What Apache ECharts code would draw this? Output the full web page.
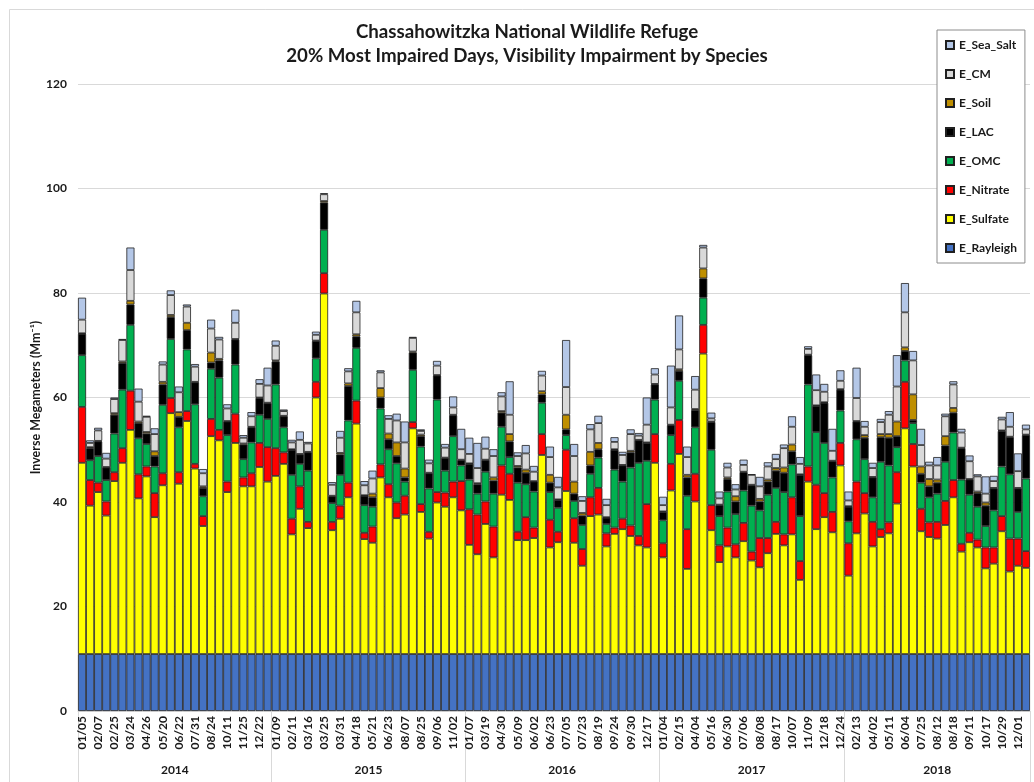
<!DOCTYPE html>
<html><head><meta charset="utf-8">
<script src="https://cdn.jsdelivr.net/npm/echarts@6/dist/echarts.min.js"></script>
<style>html,body{margin:0;padding:0;background:#fff}#c{width:1034px;height:782px}</style>
</head><body><div id="c"></div><script>
const dates = [
'01/05','01/29','02/07','02/16','02/25','03/12','03/24','04/08','04/26','05/08','05/20','06/07','06/22','07/10','07/31','08/12','08/24','09/17','10/11','11/01','11/25','12/10','12/22','12/28',
'01/09','01/27','02/11','02/26','03/16','03/22','03/25','03/28','03/31','04/06','04/18','05/06','05/21','06/08','06/23','07/14','08/07','08/16','08/25','08/31','09/06','10/06','11/02','12/11',
'01/07','02/24','03/19','04/09','04/30','05/03','05/09','05/24','06/02','06/14','06/23','06/29','07/05','07/14','07/23','08/01','08/19','09/06','09/24','09/27','09/30','11/14','12/17','12/26',
'01/04','01/28','02/15','03/11','04/04','04/28','05/16','06/09','06/30','07/03','07/06','07/24','08/08','08/14','08/17','09/13','10/07','10/25','11/09','12/03','12/18','12/21','12/24',
'01/14','02/13','03/06','04/02','04/23','05/11','05/26','06/04','06/25','07/25','08/06','08/12','08/15','08/18','08/30','09/11','10/05','10/17','10/23','10/29','11/13','12/01','12/19'];
const years = ['2014','2015','2016','2017','2018'];
const barsPerYear = [24,24,24,23,23];
const legendOrder = ['E_Sea_Salt','E_CM','E_Soil','E_LAC','E_OMC','E_Nitrate','E_Sulfate','E_Rayleigh'];

const rayleigh = [
10.9,10.9,10.9,10.9,10.9,10.9,10.9,10.9,10.9,10.9,10.9,10.9,10.9,10.9,10.9,10.9,10.9,10.9,10.9,10.9,10.9,10.9,10.9,10.9,
10.9,10.9,10.9,10.9,10.9,10.9,10.9,10.9,10.9,10.9,10.9,10.9,10.9,10.9,10.9,10.9,10.9,10.9,10.9,10.9,10.9,10.9,10.9,10.9,
10.9,10.9,10.9,10.9,10.9,10.9,10.9,10.9,10.9,10.9,10.9,10.9,10.9,10.9,10.9,10.9,10.9,10.9,10.9,10.9,10.9,10.9,10.9,10.9,
10.9,10.9,10.9,10.9,10.9,10.9,10.9,10.9,10.9,10.9,10.9,10.9,10.9,10.9,10.9,10.9,10.9,10.9,10.9,10.9,10.9,10.9,10.9,
10.9,10.9,10.9,10.9,10.9,10.9,10.9,10.9,10.9,10.9,10.9,10.9,10.9,10.9,10.9,10.9,10.9,10.9,10.9,10.9,10.9,10.9,10.9];
const sulfate = [
36.6,28.4,31.0,26.5,33.1,36.6,42.9,29.8,34.0,26.2,32.3,46.1,32.6,44.6,35.5,24.5,41.7,40.9,31.0,40.4,32.1,32.1,35.8,33.0,
34.1,36.4,22.9,27.8,24.1,49.1,69.0,23.7,25.9,30.0,44.1,22.0,21.3,33.8,30.0,26.0,26.7,43.2,27.2,22.1,29.0,28.2,30.0,27.5,
20.9,19.1,24.9,18.5,30.5,29.5,21.8,21.8,22.2,38.1,20.4,21.4,31.2,21.3,16.9,26.4,26.7,20.6,23.0,23.9,22.6,20.8,20.4,36.6,
18.5,31.3,38.3,16.3,29.2,57.5,23.7,17.6,20.6,18.5,21.6,17.9,16.6,19.3,23.0,20.8,22.9,14.2,33.0,23.9,26.2,23.3,36.1,
15.0,23.1,26.9,20.6,22.4,23.1,28.8,43.2,35.9,23.5,22.4,22.1,24.7,30.0,19.6,21.4,20.4,16.4,17.3,23.5,15.8,16.9,16.5];
const nitrate = [
10.7,4.9,1.8,2.7,1.7,2.8,7.5,4.6,1.9,4.6,2.3,2.9,2.2,1.9,0.9,1.9,3.3,2.0,2.0,5.6,1.7,2.5,4.6,6.6,
5.3,2.2,3.0,4.3,1.2,3.0,3.9,1.6,2.5,2.8,4.4,1.2,3.1,2.5,2.5,3.0,3.6,1.2,1.5,1.3,2.0,2.7,3.0,5.6,
6.8,7.6,4.3,5.9,5.6,5.0,1.6,4.4,2.0,4.0,5.3,2.0,7.9,4.7,3.2,3.6,5.1,2.5,1.2,2.0,2.0,1.8,8.3,5.5,
2.7,5.1,6.5,7.6,5.3,5.5,4.8,3.2,3.6,2.5,3.5,1.7,5.6,2.9,2.3,2.1,7.1,3.6,2.9,8.5,4.6,3.9,4.3,
6.2,9.9,3.9,4.7,1.5,2.1,6.0,8.9,4.3,4.3,2.8,3.2,4.6,3.3,1.5,1.8,1.5,4.0,3.1,2.9,6.3,5.2,3.2];
const omc = [
9.9,3.8,5.1,4.1,7.4,11.2,12.6,6.9,4.3,5.1,13.1,11.3,8.6,11.8,11.4,3.8,9.6,10.0,8.9,9.4,3.5,5.9,5.4,5.4,
12.2,4.8,8.4,4.3,9.8,4.5,8.3,3.6,5.9,11.9,10.1,5.3,3.8,10.7,6.7,7.5,2.7,10.0,11.0,8.3,17.7,4.2,8.7,3.0,
5.7,4.0,5.7,6.3,7.4,3.2,9.4,6.3,6.9,6.0,5.3,4.6,2.8,3.3,4.6,4.5,5.8,1.8,11.1,7.1,11.1,14.0,8.3,6.6,
4.4,5.5,7.5,6.4,8.9,5.2,10.6,5.6,6.9,5.8,6.2,8.8,5.3,8.3,6.5,8.1,6.3,8.6,15.7,10.1,9.6,6.6,6.2,
4.2,8.1,6.5,4.7,12.9,10.9,4.8,4.1,4.0,5.0,4.8,5.4,7.5,9.1,12.3,7.3,6.3,4.1,7.1,9.5,12.3,5.1,13.9];
const lac = [
4.1,2.3,2.8,2.4,3.6,5.1,3.9,2.9,2.0,2.0,3.9,4.2,2.0,3.7,4.2,1.6,1.2,3.3,2.6,4.8,2.8,2.9,3.2,3.0,
4.4,2.1,4.8,1.8,3.5,3.3,5.2,1.3,3.9,6.6,2.2,1.8,1.8,2.1,1.9,1.4,0.8,3.3,2.0,2.9,4.6,2.4,4.0,1.0,
3.0,1.8,2.2,2.5,2.7,3.0,2.9,2.2,1.9,1.6,1.8,1.5,1.1,1.4,1.8,1.6,1.6,1.2,3.8,3.1,2.9,4.3,3.4,2.9,
1.6,1.9,1.9,3.5,3.3,3.7,5.3,2.1,2.4,2.4,3.5,3.9,1.7,2.5,3.3,3.7,2.5,7.9,5.6,5.0,7.7,3.1,4.0,
2.8,3.4,4.1,3.8,4.7,5.3,2.1,1.8,0.6,1.7,2.1,2.1,3.1,3.8,6.0,2.9,2.6,3.9,4.2,6.8,7.1,4.5,8.3];
const soil = [
0.1,0.2,0.1,0.1,0.3,0.3,0.7,0.3,0.3,0.9,0.5,0.4,0.9,1.4,0.1,0.3,1.9,0.3,0.1,0.1,0.2,0.1,0.1,0.1,
0.2,0.1,0.1,0.1,0.1,0.1,0.3,0.1,0.3,0.5,0.4,0.1,0.7,1.8,1.1,2.6,1.7,0.2,0.3,0.1,0.1,0.1,0.1,0.1,
0.1,0.2,0.1,0.6,0.3,1.4,0.3,0.6,0.1,0.6,1.5,0.1,2.8,2.3,0.5,2.6,1.2,0.1,0.1,0.1,0.3,0.1,0.1,0.1,
0.1,0.1,0.3,0.5,0.2,1.9,0.1,0.1,0.3,1.0,0.1,0.1,0.5,0.4,0.5,1.0,1.3,0.1,0.1,0.1,0.1,0.1,0.1,
0.1,0.1,0.5,0.1,0.6,0.7,2.8,0.7,4.9,1.4,1.4,0.6,1.8,0.9,0.1,0.1,0.3,0.6,0.1,0.1,0.1,0.1,0.1];
const cm = [
2.6,0.8,2.0,1.6,2.7,4.1,5.9,3.8,2.9,3.3,3.3,3.8,3.8,3.1,2.9,2.5,4.6,3.7,2.4,3.1,1.1,2.0,2.6,3.3,
2.8,0.9,1.3,2.7,1.6,1.1,1.3,2.1,2.9,2.3,4.2,1.9,2.9,3.0,2.8,4.2,5.0,2.6,0.7,1.8,1.8,1.9,1.4,2.0,
1.8,2.9,2.1,4.1,2.8,3.7,1.9,3.1,1.8,3.0,3.4,2.3,5.3,4.9,2.3,4.3,3.8,2.3,1.4,1.9,3.2,0.8,3.4,1.8,
1.2,3.3,3.8,3.4,3.7,4.0,0.6,1.2,1.9,1.3,1.3,1.9,2.4,2.5,1.7,3.7,3.4,2.0,1.1,2.9,2.0,1.9,1.6,
1.1,4.4,1.6,1.7,2.3,3.7,6.7,6.7,6.5,4.1,2.6,2.7,3.8,4.5,2.9,3.4,2.9,1.7,1.3,2.1,1.9,3.2,1.0];
const seaSalt = [
4.2,0.5,0.5,1.1,0.3,0.2,4.3,2.5,0.2,1.1,0.6,0.9,1.1,0.4,0.5,0.8,1.7,0.5,0.8,2.5,0.5,0.8,0.9,3.4,
1.0,0.3,0.5,1.6,0.3,0.6,0.2,0.5,1.3,0.6,2.2,0.8,1.5,0.4,0.7,1.3,4.0,0.2,0.3,0.7,0.9,0.7,2.1,3.9,
3.1,4.8,2.3,1.3,0.8,6.4,0.7,1.6,1.1,0.9,2.0,2.0,9.0,2.3,0.9,1.0,1.4,1.2,0.9,0.6,0.9,0.5,5.2,1.2,
1.6,8.0,6.5,2.0,2.6,0.5,1.1,1.3,0.9,1.0,1.0,0.1,1.8,0.8,1.0,0.7,2.0,1.3,0.5,3.0,1.5,4.2,2.0,
1.7,5.8,1.1,1.0,0.6,0.7,6.0,5.6,1.8,3.1,0.7,1.6,0.5,0.6,0.7,1.1,0.4,3.3,1.0,0.5,2.8,3.4,0.9];

// derived helpers for the two-level category axis
const yearOfBar = [];
const yearStart = new Set();
const yearMid = {};
let acc = 0;
years.forEach(function (y, i) {
  yearStart.add(acc);
  yearMid[acc + Math.floor(barsPerYear[i] / 2)] = barsPerYear[i] % 2 === 0 ? 'e' : 'o';
  for (let k = 0; k < barsPerYear[i]; k++) yearOfBar.push(y);
  acc += barsPerYear[i];
});

const FONT = 'Lato, "Liberation Sans", Arial, sans-serif';
const TXT = '#1a1a1a';
const BORDER = '#202020';

function barSeries(name, data, color) {
  return {
    name: name, type: 'bar', stack: 'total', data: data,
    barCategoryGap: '0%', barGap: '0%',
    itemStyle: { color: color, borderColor: BORDER, borderWidth: 0.8 },
    emphasis: { disabled: true }
  };
}

const chart = echarts.init(document.getElementById('c'), null, { renderer: 'canvas' });
chart.setOption({
  animation: false,
  backgroundColor: '#fff',
  graphic: [{ type: 'rect', left: 7, top: 7, shape: { width: 1040, height: 800 },
    style: { fill: 'none', stroke: '#d9d9d9', lineWidth: 1 }, silent: true, z: -10 }],
  title: {
    text: 'Chassahowitzka National Wildlife Refuge\n20% Most Impaired Days, Visibility Impairment by Species',
    left: 527, top: 15, textAlign: 'center', padding: [5, 5, 5, 0],
    textStyle: { fontFamily: FONT, fontSize: 18.7, fontWeight: 'bold', color: TXT, lineHeight: 24 }
  },
  legend: {
    data: legendOrder, orient: 'vertical', left: 937, top: 30,
    itemWidth: 8, itemHeight: 8, itemGap: 17, icon: 'rect',
    padding: [9, 8, 9, 8], borderColor: '#8c8c8c', borderWidth: 1, backgroundColor: '#fff',
    textStyle: { fontFamily: FONT, fontSize: 12, fontWeight: 'bold', color: TXT },
    selectedMode: false
  },
  grid: { left: 78, right: 4, top: 84, bottom: 71, containLabel: false, outerBoundsMode: 'none' },
  xAxis: [{
    type: 'category', data: dates, position: 'bottom',
    axisLine: { show: true, lineStyle: { color: '#d9d9d9' } },
    axisTick: { show: false },
    axisLabel: { interval: 1, rotate: 90, margin: 5, fontFamily: FONT, fontSize: 12, fontWeight: 'bold', color: TXT, hideOverlap: false },
    splitLine: { show: false }
  }, {
    type: 'category', data: yearOfBar, position: 'bottom', offset: 0,
    axisLine: { show: false },
    axisTick: { show: true, length: 71, interval: function (i) { return yearStart.has(i); }, lineStyle: { color: '#d9d9d9' } },
    axisLabel: {
      interval: function (i) { return yearMid[i] !== undefined; }, margin: 53,
      formatter: function (v, i) { return yearMid[i] === 'e' ? '{e|' + v + '}' : '{o|' + v + '}'; },
      rich: {
        e: { fontFamily: FONT, fontSize: 12, fontWeight: 'bold', color: TXT, padding: [0, 8, 0, 0] },
        o: { fontFamily: FONT, fontSize: 12, fontWeight: 'bold', color: TXT }
      },
      hideOverlap: false
    },
    splitLine: { show: false }
  }],
  yAxis: {
    type: 'value', min: 0, max: 120, interval: 20,
    name: 'Inverse Megameters (Mm\u207B\u00B9)', nameLocation: 'middle', nameGap: 36, nameMoveOverlap: false,
    nameTextStyle: { fontFamily: FONT, fontSize: 12.5, fontWeight: 'bold', color: TXT },
    axisLine: { show: false }, axisTick: { show: false },
    axisLabel: { margin: 11, fontFamily: FONT, fontSize: 12, fontWeight: 'bold', color: TXT },
    splitLine: { lineStyle: { color: '#d9d9d9', width: 1 } }
  },
  series: [
    barSeries('E_Rayleigh', rayleigh, '#4472C4'),
    barSeries('E_Sulfate', sulfate, '#FFFF00'),
    barSeries('E_Nitrate', nitrate, '#FF0000'),
    barSeries('E_OMC', omc, '#00B050'),
    barSeries('E_LAC', lac, '#000000'),
    barSeries('E_Soil', soil, '#BF8F00'),
    barSeries('E_CM', cm, '#D9D9D9'),
    barSeries('E_Sea_Salt', seaSalt, '#B4C7E7')
  ]
});
</script></body></html>
